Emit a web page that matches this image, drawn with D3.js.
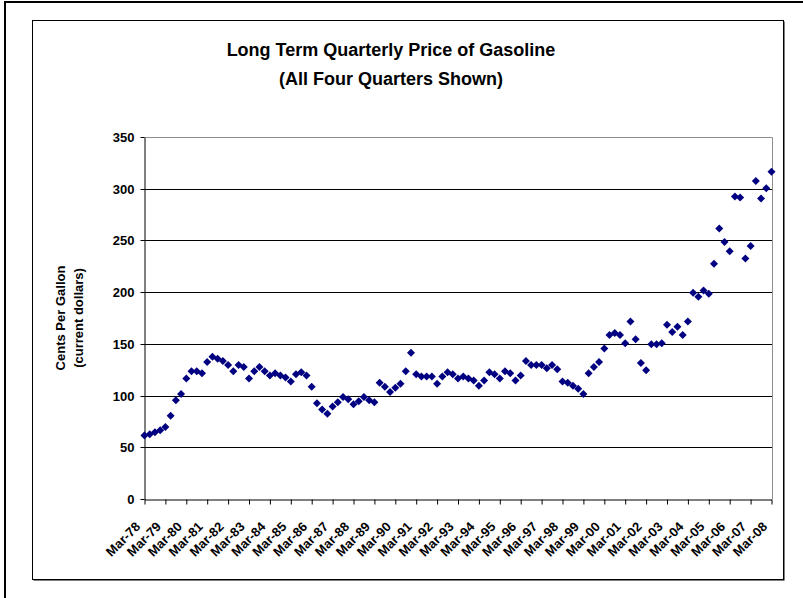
<!DOCTYPE html>
<html>
<head>
<meta charset="utf-8">
<script src="https://cdn.jsdelivr.net/npm/d3@7"></script>
<style>
  body { margin: 0; background: #fff; }
  svg text { font-family: Arial, "Liberation Sans", sans-serif; font-weight: bold; fill: #000; }
</style>
</head>
<body>
<script>
var width = 803,
  height = 598;

// tick labels along the category axis, one per year (every fourth quarter)
var tickLabels = [
  'Mar-78', 'Mar-79', 'Mar-80', 'Mar-81', 'Mar-82', 'Mar-83', 'Mar-84', 'Mar-85',
  'Mar-86', 'Mar-87', 'Mar-88', 'Mar-89', 'Mar-90', 'Mar-91', 'Mar-92', 'Mar-93',
  'Mar-94', 'Mar-95', 'Mar-96', 'Mar-97', 'Mar-98', 'Mar-99', 'Mar-00', 'Mar-01',
  'Mar-02', 'Mar-03', 'Mar-04', 'Mar-05', 'Mar-06', 'Mar-07', 'Mar-08'
];

// cents per gallon, one value per quarter, Mar-78 .. Mar-08
var prices = [
  62, 63, 65, 67, 70, 81, 96, 102, 117, 124, 124, 122,
  133, 138, 136, 134, 130, 124, 130, 128, 117, 124, 128, 124,
  120, 122, 120, 118, 114, 121, 123, 120, 109, 93, 87, 83,
  90, 94, 99, 97, 92, 95, 99, 96, 94, 113, 109, 104,
  108, 112, 124, 142, 121, 119, 119, 119, 112, 119, 123, 121,
  117, 119, 117, 115, 110, 115, 123, 121, 117, 124, 122, 115,
  120, 134, 130, 130, 130, 127, 130, 126, 114, 113, 110, 107,
  102, 122, 128, 133, 146, 159, 161, 159, 151, 172, 155, 132,
  125, 150, 150, 151, 169, 162, 167, 159, 172, 200, 196, 202,
  199, 228, 262, 249, 240, 293, 292, 233, 245, 308, 291, 301,
  317
];

var yTicks = [0, 50, 100, 150, 200, 250, 300, 350];
var titleLines = ['Long Term Quarterly Price of Gasoline', '(All Four Quarters Shown)'];
var axisTitleLines = ['Cents Per Gallon', '(current dollars)'];

var plot = { left: 144, right: 772, top: 137, bottom: 499 };

var x = d3.scaleLinear()
  .domain([0, prices.length - 1])
  .range([plot.left + 0.5, plot.right - 0.5]);

var y = d3.scaleLinear()
  .domain([0, 350])
  .range([plot.bottom + 0.5, plot.top + 0.5]);

function snap(v) {
  return Math.round(v - 0.5) + 0.5;
}

var svg = d3.select('body').append('svg')
  .attr('width', width)
  .attr('height', height);

// outer frame (only top and left edges fall inside the picture)
svg.append('rect')
  .attr('x', 5).attr('y', 2)
  .attr('width', 900).attr('height', 700)
  .attr('fill', 'none')
  .attr('stroke', '#000')
  .attr('stroke-width', 2);

// chart area with its little drop shadow
svg.append('rect')
  .attr('x', 33.5).attr('y', 21.5)
  .attr('width', 751).attr('height', 559)
  .attr('fill', '#000');
svg.append('rect')
  .attr('x', 32.5).attr('y', 20.5)
  .attr('width', 751).attr('height', 559)
  .attr('fill', '#fff')
  .attr('stroke', '#000');

// gridlines
svg.append('g')
  .selectAll('line')
  .data(yTicks.filter(function(d) { return d > 0 && d < 350; }))
  .enter().append('line')
    .attr('x1', plot.left).attr('x2', plot.right)
    .attr('y1', function(d) { return snap(y(d)); })
    .attr('y2', function(d) { return snap(y(d)); })
    .attr('stroke', '#000');

// plot area border (top and right in grey)
svg.append('path')
  .attr('d', 'M' + plot.left + ',' + (plot.top + 0.5) + 'H' + (plot.right + 0.5) + 'V' + plot.bottom)
  .attr('fill', 'none')
  .attr('stroke', '#8c8c8c');

// y axis
var yAxis = d3.axisLeft(y)
  .tickValues(yTicks)
  .tickSize(4)
  .tickSizeOuter(0)
  .tickPadding(6);

var yAxisG = svg.append('g')
  .attr('transform', 'translate(' + (plot.left + 0.5) + ',0)')
  .call(yAxis);

yAxisG.selectAll('.tick').attr('transform', function(d) {
  return 'translate(0,' + snap(y(d)) + ')';
});
yAxisG.selectAll('line').attr('stroke', '#000');
yAxisG.select('.domain').attr('stroke', '#000');
yAxisG.selectAll('text')
  .attr('font-size', '13px')
  .attr('dy', '0.36em');

// x axis
var xAxis = d3.axisBottom(x)
  .tickValues(d3.range(0, prices.length, 4))
  .tickFormat(function(d, i) { return tickLabels[i]; })
  .tickSize(5)
  .tickSizeOuter(0);

var xAxisG = svg.append('g')
  .attr('transform', 'translate(0,' + (plot.bottom + 0.5) + ')')
  .call(xAxis);

xAxisG.select('.domain').attr('stroke', '#000');
xAxisG.selectAll('line').attr('stroke', '#000');
xAxisG.selectAll('text')
  .attr('font-size', '13px')
  .attr('text-anchor', 'end')
  .attr('x', 0)
  .attr('y', 0)
  .attr('dy', 0)
  .attr('transform', 'translate(-4,28) rotate(-45)');

// the quarterly prices as navy diamonds
var diamond = d3.symbol().type(d3.symbolSquare).size(32);

svg.append('g')
  .selectAll('path')
  .data(prices)
  .enter().append('path')
    .attr('d', diamond)
    .attr('fill', '#000080')
    .attr('transform', function(d, i) {
      return 'translate(' + x(i) + ',' + y(d) + ') rotate(45)';
    });

// chart title
svg.append('g')
  .selectAll('text')
  .data(titleLines)
  .enter().append('text')
    .attr('x', 391)
    .attr('y', function(d, i) { return 56 + i * 29; })
    .attr('text-anchor', 'middle')
    .attr('font-size', '18px')
    .text(function(d) { return d; });

// value axis title
svg.append('g')
  .attr('transform', 'translate(65,318) rotate(-90)')
  .selectAll('text')
  .data(axisTitleLines)
  .enter().append('text')
    .attr('x', 0)
    .attr('y', function(d, i) { return i * 18; })
    .attr('text-anchor', 'middle')
    .attr('font-size', '13px')
    .text(function(d) { return d; });
</script>
</body>
</html>
